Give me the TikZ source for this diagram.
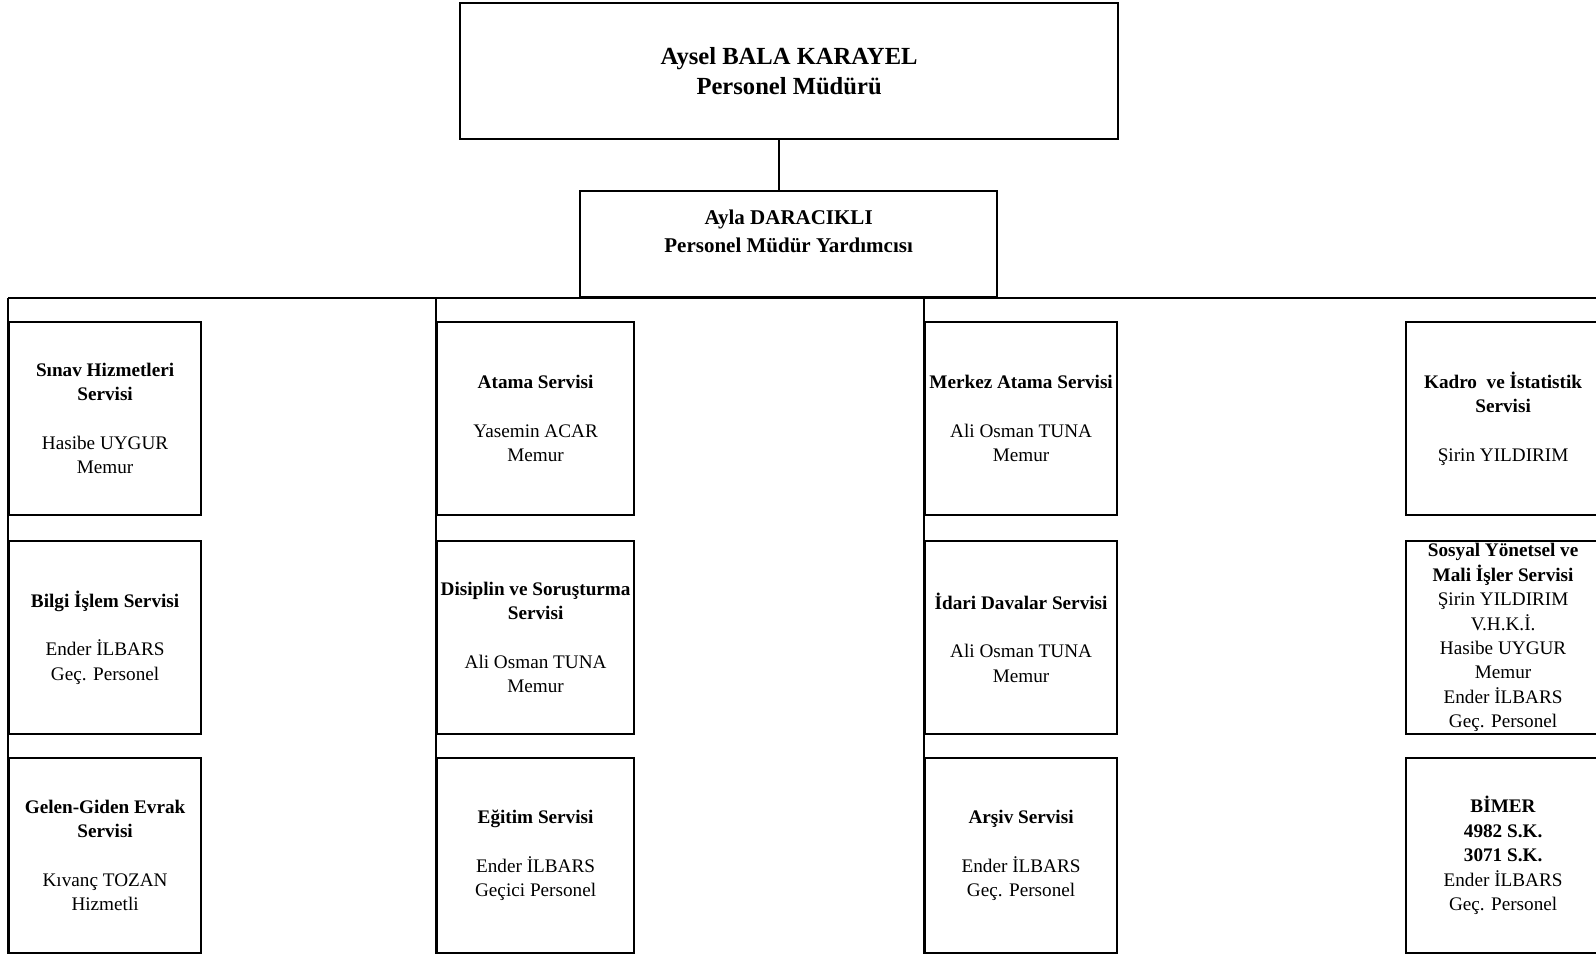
\documentclass[tikz,border=0pt]{standalone}
\usepackage{fontspec}
\setmainfont{Liberation Serif}
\begin{document}
\begin{tikzpicture}[x=0.5pt, y=-0.5pt,
            servis/.style={draw, line width=1.1pt, anchor=north west, align=center, inner sep=0pt,
                font=\fontsize{9.6}{12.2}\selectfont, minimum width=96pt, minimum height=96.5pt}]
            \useasboundingbox (0, 0) rectangle (1596, 954);

            \node[servis, minimum width=329pt, minimum height=68pt, font=\bfseries\fontsize{12.3}{15.3}\selectfont] (mudur) at (459, 2) {Aysel BALA KARAYEL\\Personel Müdürü};
            \node[servis, minimum width=208.5pt, minimum height=53pt, text depth=13pt, font=\bfseries\fontsize{10.5}{13.7}\selectfont] (yard) at (579, 190) {Ayla DARACIKLI\\Personel Müdür Yardımcısı};

            \node[servis] (sinav) at (8, 321) {\textbf{Sınav Hizmetleri}\\\textbf{Servisi}\\[12.2pt]Hasibe UYGUR\\Memur};
            \node[servis] (bilgi) at (8, 540) {\textbf{Bilgi İşlem Servisi}\\[12.2pt]Ender İLBARS\\Geç. Personel};
            \node[servis, minimum height=97.5pt] (gelen) at (8, 757) {\textbf{Gelen-Giden Evrak}\\\textbf{Servisi}\\[12.2pt]Kıvanç TOZAN\\Hizmetli};

            \node[servis, minimum width=98.5pt] (atama) at (436, 321) {\textbf{Atama Servisi}\\[12.2pt]Yasemin ACAR\\Memur};
            \node[servis, minimum width=98.5pt] (disiplin) at (436, 540) {\textbf{Disiplin ve Soruşturma}\\\textbf{Servisi}\\[12.2pt]Ali Osman TUNA\\Memur};
            \node[servis, minimum width=98.5pt, minimum height=97.5pt] (egitim) at (436, 757) {\textbf{Eğitim Servisi}\\[12.2pt]Ender İLBARS\\Geçici Personel};

            \node[servis] (merkez) at (924, 321) {\textbf{Merkez Atama Servisi}\\[12.2pt]Ali Osman TUNA\\Memur};
            \node[servis] (idari) at (924, 540) {\textbf{İdari Davalar Servisi}\\[12.2pt]Ali Osman TUNA\\Memur};
            \node[servis, minimum height=97.5pt] (arsiv) at (924, 757) {\textbf{Arşiv Servisi}\\[12.2pt]Ender İLBARS\\Geç. Personel};

            \node[servis, minimum width=97pt] (kadro) at (1405, 321) {\textbf{Kadro\ \ ve İstatistik}\\\textbf{Servisi}\\[12.2pt]Şirin YILDIRIM};
            \node[servis, minimum width=97pt] (sosyal) at (1405, 540) {\textbf{Sosyal Yönetsel ve}\\\textbf{Mali İşler Servisi}\\Şirin YILDIRIM\\V.H.K.İ.\\Hasibe UYGUR\\Memur\\Ender İLBARS\\Geç. Personel};
            \node[servis, minimum width=97pt, minimum height=97.5pt] (bimer) at (1405, 757) {\textbf{BİMER}\\\textbf{4982 S.K.}\\\textbf{3071 S.K.}\\Ender İLBARS\\Geç. Personel};

            \coordinate (k) at ([xshift=-5pt]mudur.south);
            \draw[line width=1.1pt] (k) -- (k |- yard.north);

            \draw[line width=1.1pt] (sinav.north west |- yard.south) -- (kadro.north east |- yard.south);
            \draw[line width=1.1pt] (sinav.north west |- yard.south) -- (gelen.south west);
            \draw[line width=1.1pt] (atama.north west |- yard.south) -- (egitim.south west);
            \draw[line width=1.1pt] (merkez.north west |- yard.south) -- (arsiv.south west);
            \draw[line width=1.1pt] (kadro.north east |- yard.south) -- (bimer.south east);
        \end{tikzpicture}
\end{document}
